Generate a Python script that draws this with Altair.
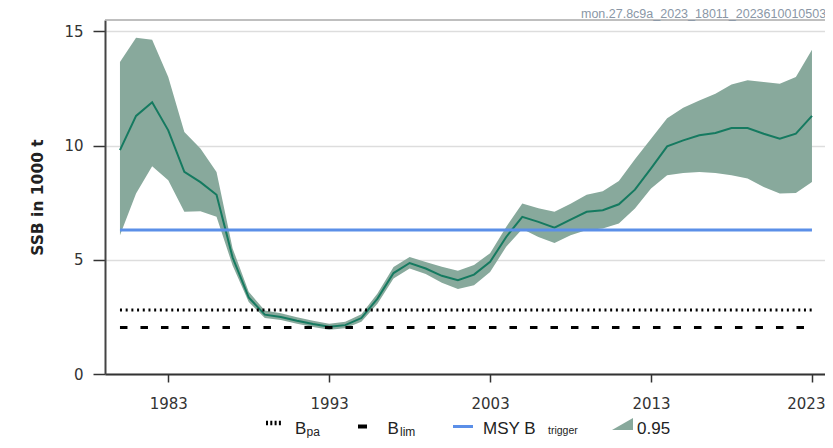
import altair as alt
import pandas as pd

years = list(range(1980, 2024))
ssb = [9.8, 11.3, 11.9, 10.67, 8.85, 8.4, 7.85, 5.1, 3.35, 2.6,
       2.5, 2.33, 2.19, 2.07, 2.14, 2.45, 3.3, 4.42, 4.86, 4.62,
       4.3, 4.11, 4.35, 4.91, 6.0, 6.88, 6.66, 6.41, 6.76, 7.1,
       7.17, 7.43, 8.07, 9.0, 9.97, 10.23, 10.45, 10.55, 10.77, 10.77,
       10.52, 10.3, 10.52, 11.3]
low = [6.08, 7.9, 9.1, 8.48, 7.1, 7.13, 6.88, 4.75, 3.15, 2.45,
       2.36, 2.2, 2.06, 1.94, 2.0, 2.29, 3.08, 4.18, 4.62, 4.38,
       4.0, 3.72, 3.89, 4.47, 5.57, 6.35, 6.0, 5.74, 6.08, 6.3,
       6.37, 6.59, 7.25, 8.12, 8.7, 8.8, 8.85, 8.8, 8.7, 8.56,
       8.19, 7.9, 7.93, 8.41]
high = [13.66, 14.72, 14.63, 13.0, 10.6, 9.87, 8.85, 5.5, 3.6, 2.78,
        2.66, 2.48, 2.33, 2.2, 2.29, 2.62, 3.52, 4.68, 5.12, 4.9,
        4.7, 4.52, 4.77, 5.29, 6.44, 7.47, 7.26, 7.1, 7.45, 7.85,
        8.0, 8.45, 9.4, 10.3, 11.2, 11.66, 11.98, 12.27, 12.68, 12.86,
        12.78, 12.71, 13.0, 14.2]

b_pa = 2.8
b_lim = 2.04
msy_btrigger = 6.3
x_ticks = [1983, 1993, 2003, 2013, 2023]
y_ticks = [0, 5, 10, 15]
stamp = "mon.27.8c9a_2023_18011_2023610010503"

LINE = "#157a60"
BAND = "#88a99c"
BLUE = "#5b8fe8"

W, H = 720, 354

df = pd.DataFrame({"year": years, "ssb": ssb, "low": low, "high": high})
ref = pd.DataFrame({"start": [years[0]], "end": [years[-1]],
                    "bpa": [b_pa], "blim": [b_lim], "msy": [msy_btrigger]})
one = pd.DataFrame({"k": [0]})

xs = alt.Scale(domain=[1979.07, 2023.81], nice=False, zero=False)
ys = alt.Scale(domain=[0, 15.5], nice=False)

xax = alt.Axis(values=x_ticks, format="d", title=None, grid=False,
               tickSize=8, labelPadding=14, labelFontSize=15,
               labelFont="DejaVu Sans", labelColor="#333",
               labelFlush=16, labelFlushOffset=13,
               domainColor="#333", domainWidth=2, tickColor="#333", tickWidth=1.5)
yax = alt.Axis(values=y_ticks, title="SSB in 1000 t", grid=True,
               gridColor="#dddddd", gridWidth=1.5,
               tickSize=12, labelPadding=10, labelFontSize=15,
               labelFont="DejaVu Sans", labelColor="#333",
               domainColor="#444", domainWidth=2, tickColor="#333", tickWidth=1.5,
               titleFont="DejaVu Sans", titleFontSize=15.5, titleFontWeight="bold",
               titleColor="#222", titlePadding=18)

band = alt.Chart(df).mark_area(color=BAND, opacity=1).encode(
    x=alt.X("year:Q", scale=xs, axis=xax),
    y=alt.Y("low:Q", scale=ys, axis=yax),
    y2="high:Q",
)
line = alt.Chart(df).mark_line(color=LINE, strokeWidth=2).encode(
    x=alt.X("year:Q", scale=xs), y=alt.Y("ssb:Q", scale=ys))

base_ref = alt.Chart(ref)
r_pa = base_ref.mark_rule(color="black", strokeWidth=3, strokeDash=[2, 3.7]).encode(
    x=alt.X("start:Q", scale=xs), x2="end:Q", y=alt.Y("bpa:Q", scale=ys))
r_lim = base_ref.mark_rule(color="black", strokeWidth=3, strokeDash=[7.5, 13]).encode(
    x=alt.X("start:Q", scale=xs), x2="end:Q", y=alt.Y("blim:Q", scale=ys))
r_msy = base_ref.mark_rule(color=BLUE, strokeWidth=3).encode(
    x=alt.X("start:Q", scale=xs), x2="end:Q", y=alt.Y("msy:Q", scale=ys))

lg = alt.Chart(one)
frame_top = lg.mark_rule(color="#aaaaaa", strokeWidth=1.5).encode(
    x=alt.value(0), x2=alt.value(W), y=alt.value(0))

FONT = "Liberation Sans"
LY = 414  # legend text baseline (plot coords)
leg = [
    lg.mark_rule(color="black", strokeWidth=4.5, strokeDash=[2, 2.3]).encode(
        x=alt.value(161), x2=alt.value(177), y=alt.value(LY - 11)),
    lg.mark_text(text="B", align="left", baseline="alphabetic", font=FONT,
                 fontSize=17, color="#222").encode(x=alt.value(190), y=alt.value(LY)),
    lg.mark_text(text="pa", align="left", baseline="alphabetic", font=FONT,
                 fontSize=12, color="#222").encode(x=alt.value(201.5), y=alt.value(LY + 2)),
    lg.mark_rule(color="black", strokeWidth=4).encode(
        x=alt.value(253), x2=alt.value(262), y=alt.value(LY - 7.5)),
    lg.mark_text(text="B", align="left", baseline="alphabetic", font=FONT,
                 fontSize=17, color="#222").encode(x=alt.value(282.5), y=alt.value(LY)),
    lg.mark_text(text="lim", align="left", baseline="alphabetic", font=FONT,
                 fontSize=12, color="#222").encode(x=alt.value(295), y=alt.value(LY + 2)),
    lg.mark_rule(color=BLUE, strokeWidth=3).encode(
        x=alt.value(348), x2=alt.value(368), y=alt.value(LY - 7.5)),
    lg.mark_text(text="MSY B", align="left", baseline="alphabetic", font=FONT,
                 fontSize=17, color="#222").encode(x=alt.value(378), y=alt.value(LY)),
    lg.mark_text(text="trigger", align="left", baseline="alphabetic", font=FONT,
                 fontSize=10.5, color="#222").encode(x=alt.value(443), y=alt.value(LY)),
    lg.mark_point(shape="M -1 0.57 L 1 -0.57 L 1 0.57 Z", filled=True, opacity=1,
                  color=BAND, size=441, strokeWidth=0).encode(
        x=alt.value(517.5), y=alt.value(LY - 10)),
    lg.mark_text(text="0.95", align="left", baseline="alphabetic", font=FONT,
                 fontSize=17, color="#222").encode(x=alt.value(532), y=alt.value(LY)),
    lg.mark_text(text=stamp, align="left", baseline="middle", font=FONT,
                 fontSize=12.5, color="#8a97a6").encode(x=alt.value(476), y=alt.value(-6.5)),
]

chart = alt.layer(band, line, r_pa, r_lim, r_msy, frame_top, *leg).properties(
    width=W, height=H,
    autosize=alt.AutoSizeParams(type="none"),
    padding={"left": 97, "top": 12, "right": 0, "bottom": 64},
).configure_view(strokeWidth=0)

chart.save("out.html", embed_options={"renderer": "svg", "actions": False})
